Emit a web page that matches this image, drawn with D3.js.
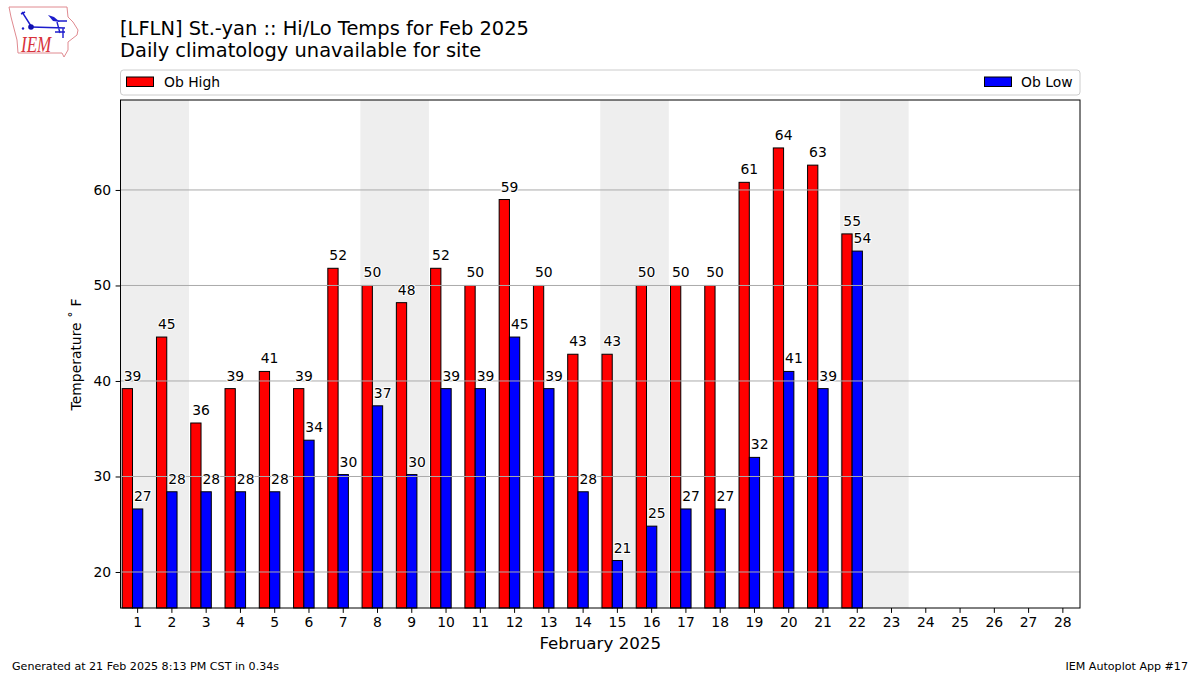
<!DOCTYPE html>
<html>
<head>
<meta charset="utf-8">
<script src="https://cdn.jsdelivr.net/npm/d3@7"></script>
<style>
body { margin: 0; background: #fff; }
text { font-family: "DejaVu Sans", sans-serif; fill: #000; }
</style>
</head>
<body>
<div id="chart"></div>
<script>
// daily obs, deg F (converted from whole C, hence the odd tenths)
const days = d3.range(1, 29);
const obDays = [1,2,3,4,5,6,7,8,9,10,11,12,13,14,15,16,17,18,19,20,21,22];
const obHigh = [39.2,44.6,35.6,39.2,41,39.2,51.8,50,48.2,51.8,50,59,50,42.8,42.8,50,50,50,60.8,64.4,62.6,55.4];
const obLow = [26.6,28.4,28.4,28.4,28.4,33.8,30.2,37.4,30.2,39.2,39.2,44.6,39.2,28.4,21.2,24.8,26.6,26.6,32,41,39.2,53.6];
const weekendStarts = [1, 8, 15, 22];
const yTicks = [20, 30, 40, 50, 60];

const w = 1200, h = 675;
const margin = {top: 100, right: 120, bottom: 67, left: 120.5};
const width = w - margin.left - margin.right;
const height = h - margin.top - margin.bottom;

const svg = d3.select("#chart").append("svg")
	.attr("width", w)
	.attr("height", h)
	.style("display", "block");

const x = d3.scaleLinear().domain([0.5, 28.5]).range([0, width]);
const y = d3.scaleLinear().domain([16.23, 69.42]).range([height, 0]);

const chart = svg.append("g")
	.attr("transform", "translate(" + margin.left + "," + margin.top + ")");

// weekend bands
chart.selectAll(".band")
	.data(weekendStarts)
	.enter().append("rect")
	.attr("x", d => x(d - 0.5))
	.attr("y", 0)
	.attr("width", d => x(d + 1.5) - x(d - 0.5))
	.attr("height", height)
	.attr("fill", "#eeeeee");

function drawBars(values, offset, color) {
	chart.append("g").selectAll("rect")
		.data(values)
		.enter().append("rect")
		.attr("x", (d, i) => x(obDays[i] + offset))
		.attr("y", d => y(d))
		.attr("width", x(0.8) - x(0.5))
		.attr("height", d => height - y(d))
		.attr("fill", color)
		.attr("stroke", "#000")
		.attr("stroke-width", 1);
}
drawBars(obHigh, -0.45, "#ff0000");
drawBars(obLow, -0.15, "#0000ff");

// grid sits on top of the bars
chart.append("g").selectAll("line")
	.data(yTicks)
	.enter().append("line")
	.attr("x1", 0)
	.attr("x2", width)
	.attr("y1", d => y(d))
	.attr("y2", d => y(d))
	.attr("stroke", "#aaaaaa")
	.attr("stroke-width", 1);

function drawLabels(values, offset) {
	chart.append("g").selectAll("text")
		.data(values)
		.enter().append("text")
		.attr("x", (d, i) => x(obDays[i] + offset) + 1.5)
		.attr("y", d => y(d) - 8)
		.attr("font-size", 13.9)
		.attr("stroke", "#fff")
		.attr("stroke-width", 2)
		.attr("paint-order", "stroke")
		.text(d => d3.format(".0f")(d));
}
drawLabels(obHigh, -0.45);
drawLabels(obLow, -0.15);

// frame
chart.append("rect")
	.attr("width", width)
	.attr("height", height)
	.attr("fill", "none")
	.attr("stroke", "#000")
	.attr("stroke-width", 1);

const xAxis = chart.append("g")
	.attr("transform", "translate(0," + height + ")")
	.call(d3.axisBottom(x).tickValues(days).tickFormat(d3.format("d")).tickSize(4.9).tickPadding(4.5).offset(0));
const yAxis = chart.append("g")
	.call(d3.axisLeft(y).tickValues(yTicks).tickFormat(d3.format("d")).tickSize(4.9).tickPadding(4.5));
[xAxis, yAxis].forEach(a => {
	a.select(".domain").remove();
	a.selectAll("text").attr("font-size", 13.9).attr("font-family", '"DejaVu Sans", sans-serif').attr("fill", "#000");
	a.selectAll("line").attr("stroke", "#000");
});

svg.append("text")
	.attr("x", margin.left + width / 2)
	.attr("y", 649)
	.attr("text-anchor", "middle")
	.attr("font-size", 16.7)
	.text("February 2025");

svg.append("text")
	.attr("transform", "translate(81," + (margin.top + height / 2 + 0.5) + ") rotate(-90)")
	.attr("text-anchor", "middle")
	.attr("font-size", 13.9)
	.text("Temperature ˚ F");

// titles
svg.append("text").attr("x", 120).attr("y", 35).attr("font-size", 19.45)
	.text("[LFLN] St.-yan :: Hi/Lo Temps for Feb 2025");
svg.append("text").attr("x", 120).attr("y", 57).attr("font-size", 19.45)
	.text("Daily climatology unavailable for site");

// legend
svg.append("rect")
	.attr("x", 120.5).attr("y", 70)
	.attr("width", 959.5).attr("height", 25)
	.attr("rx", 3)
	.attr("fill", "#fff")
	.attr("stroke", "#cccccc");
const legendItems = [
	{label: "Ob High", color: "#ff0000", sx: 126.5, tx: 164},
	{label: "Ob Low", color: "#0000ff", sx: 984.5, tx: 1021}
];
legendItems.forEach(d => {
	svg.append("rect")
		.attr("x", d.sx).attr("y", 77)
		.attr("width", 27).attr("height", 9.5)
		.attr("fill", d.color)
		.attr("stroke", "#000");
	svg.append("text")
		.attr("x", d.tx).attr("y", 86.5)
		.attr("font-size", 13.9)
		.text(d.label);
});

// footer
svg.append("text").attr("x", 12).attr("y", 670).attr("font-size", 11.1)
	.text("Generated at 21 Feb 2025 8:13 PM CST in 0.34s");
svg.append("text").attr("x", 1188).attr("y", 670).attr("font-size", 11.1)
	.attr("text-anchor", "end")
	.text("IEM Autoplot App #17");

// logo
const logo = svg.append("g");
logo.append("path")
	.attr("d", "M9,7 L67,7 L68,17 L73,22 L78,30 L77,35 L68,42 L68,50 L64,57 L62,53 L18,53 L17,40 L11,17 Z")
	.attr("fill", "none")
	.attr("stroke", "#e08a90")
	.attr("stroke-width", 1);
logo.append("path")
	.attr("d", "M22,12 L24,15 L31,26 M31,27 L65,28 M58,21 L67,21 M57,22 L60,33 M63,28 L63,38 M55,32 L65,32 M21,14 L25,12")
	.attr("fill", "none")
	.attr("stroke", "#1c1ccc")
	.attr("stroke-width", 1.4);
logo.append("circle").attr("cx", 31).attr("cy", 27).attr("r", 2.8).attr("fill", "#1010b0");
logo.append("circle").attr("cx", 23).attr("cy", 28.5).attr("r", 1.2).attr("fill", "#1c1ccc");
logo.append("path").attr("d", "M48,15 L54,17 L60,22 L53,21 Z").attr("fill", "#1c1ccc");
logo.append("text")
	.attr("transform", "translate(21,52) scale(0.85,1.15)")
	.attr("font-size", 20)
	.style("font-family", '"Liberation Serif", serif')
	.style("font-style", "italic")
	.style("fill", "#d8323c")
	.text("IEM");
</script>
</body>
</html>
